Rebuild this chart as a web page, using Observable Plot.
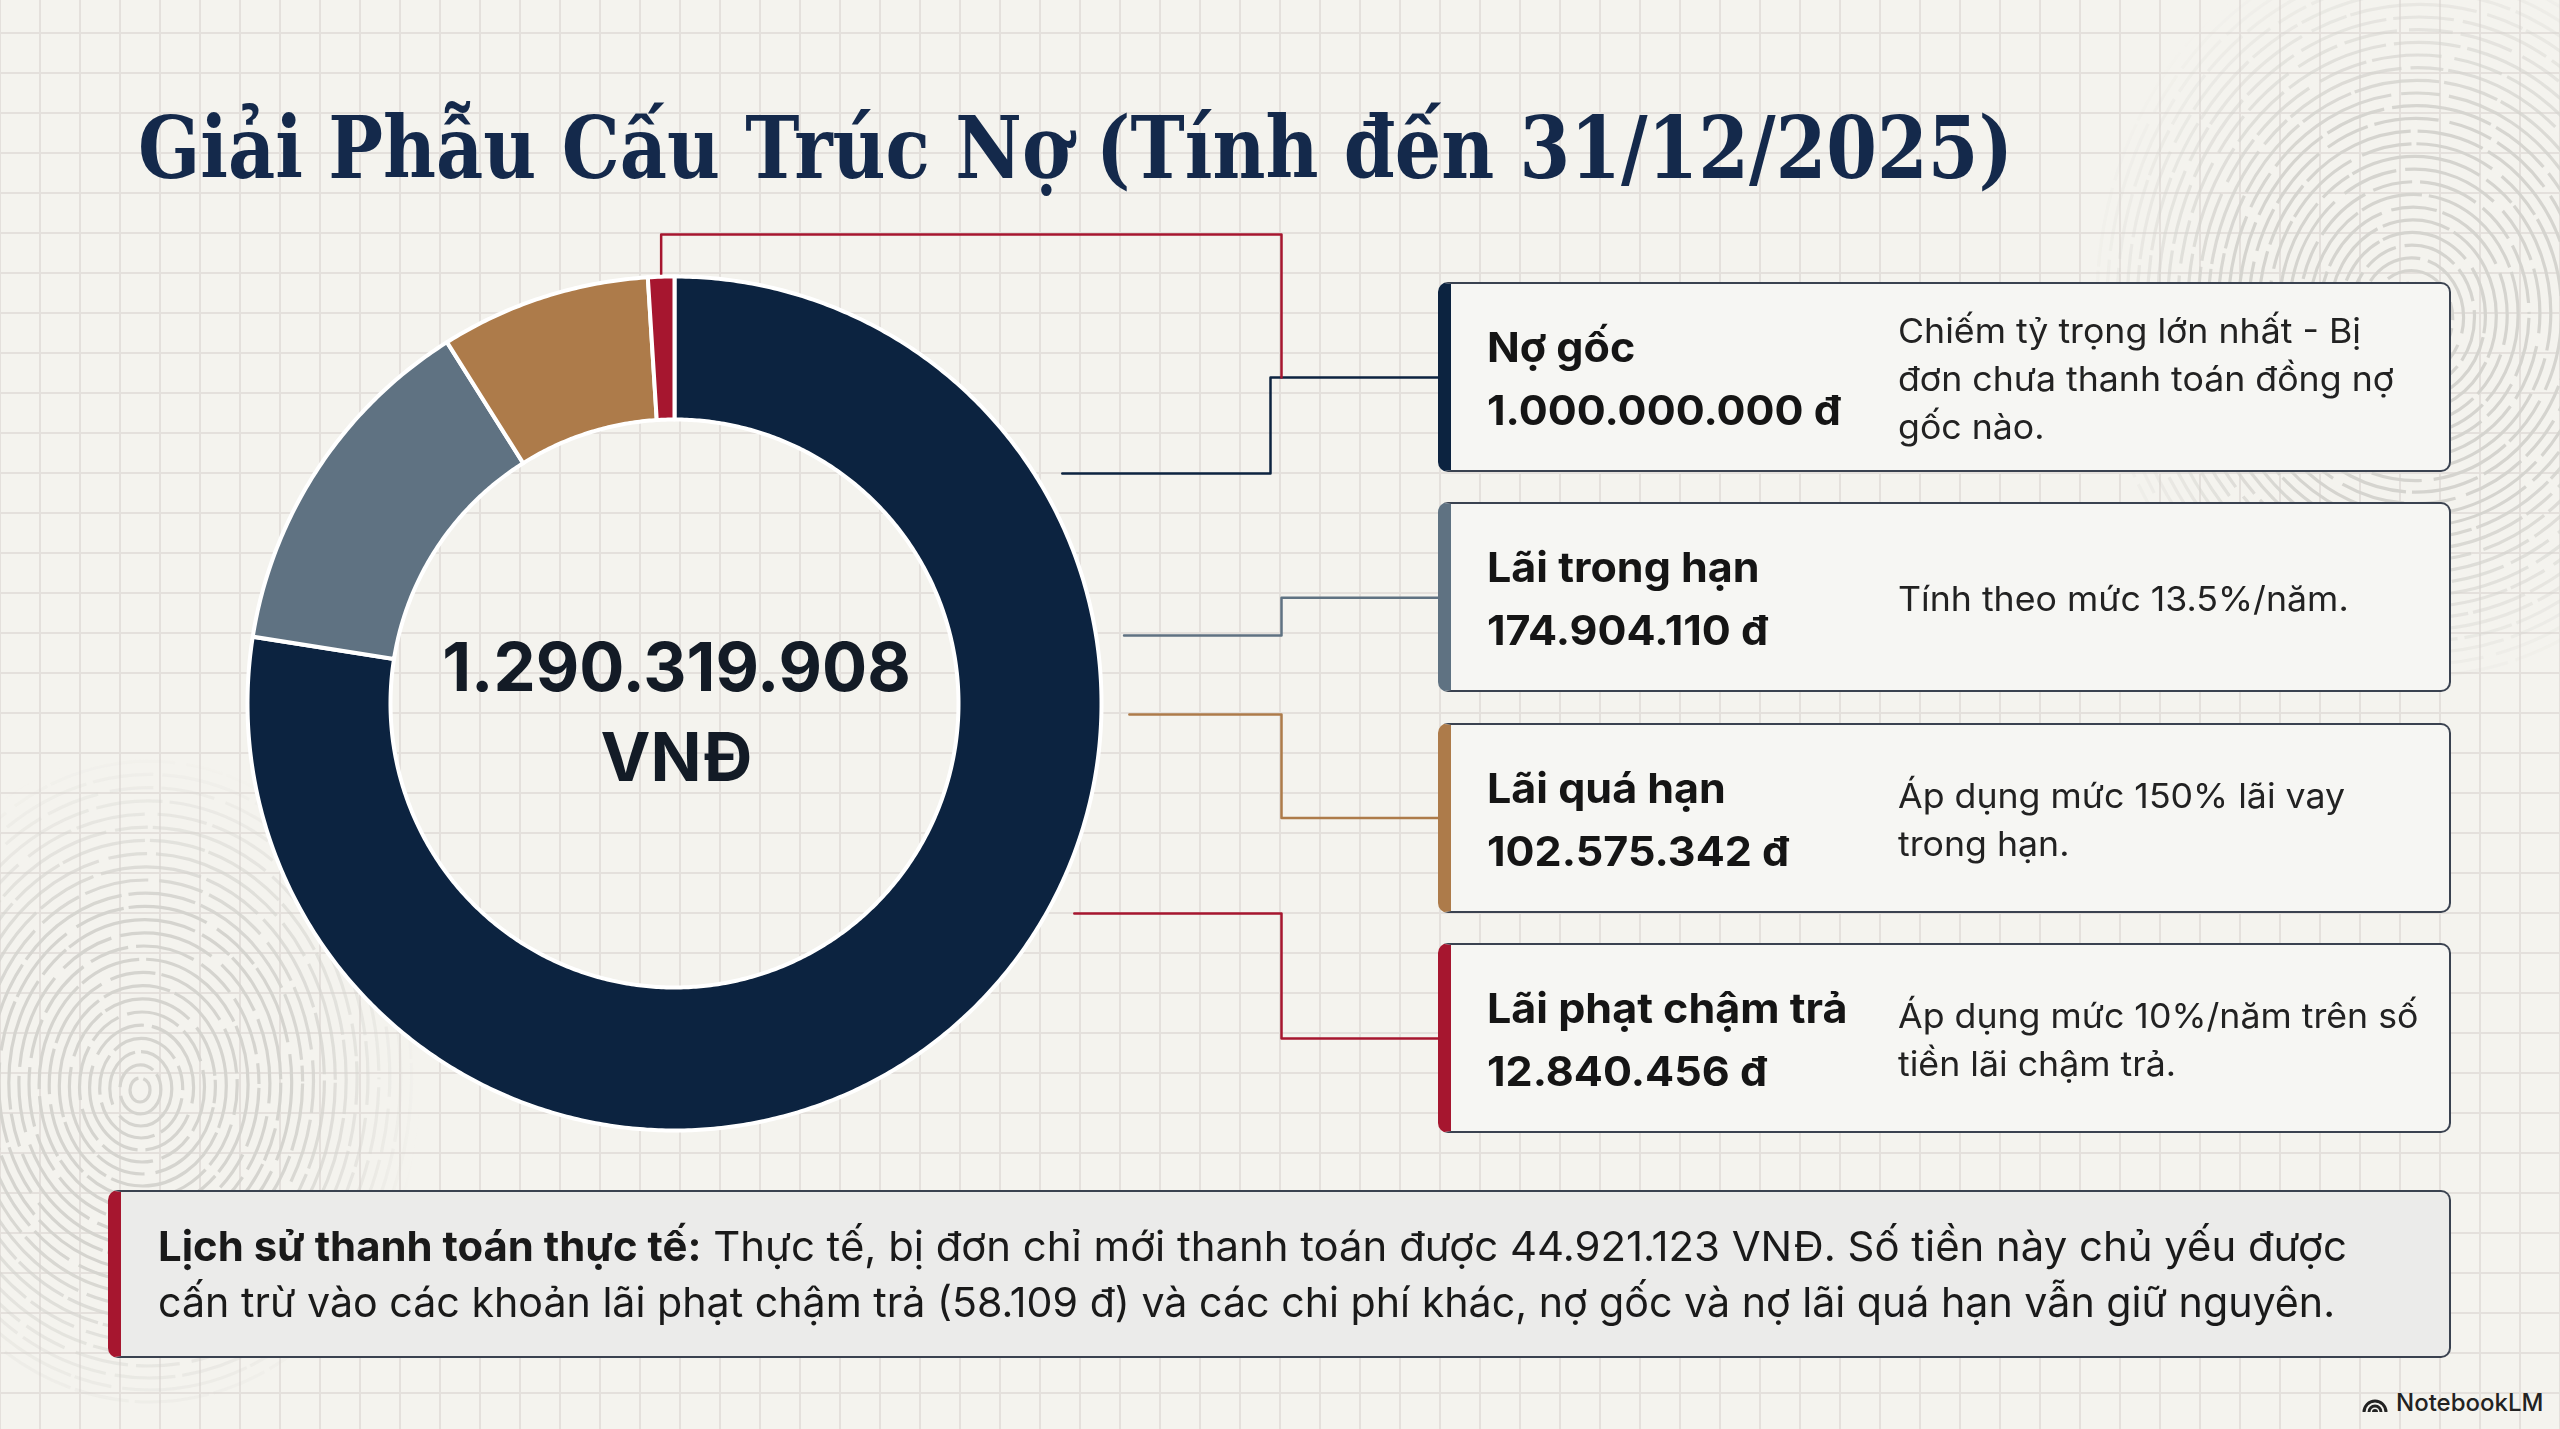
<!DOCTYPE html>
<html lang="vi">
<head>
<meta charset="utf-8">
<script src="https://cdn.jsdelivr.net/npm/d3@7"></script>
<script src="https://cdn.jsdelivr.net/npm/@observablehq/plot@0.6"></script>
<style>
html,body{margin:0;padding:0}
body{width:2560px;height:1429px;overflow:hidden;position:relative;background-color:#f4f3ee;
  background-image:linear-gradient(to right,#e4e0dc 2px,transparent 2px),linear-gradient(to bottom,#e4e0dc 2px,transparent 2px);
  background-size:40px 40px;background-position:-1px 32px;
  font-family:Inter,"Noto Sans",sans-serif;color:#1a1a1a}
#fp{position:absolute;left:0;top:0;z-index:0}
#chart{position:absolute;left:0;top:0;z-index:1}
#title{position:absolute;left:138px;top:105px;margin:0;font-family:"DejaVu Serif",serif;font-weight:700;font-size:86px;line-height:86px;color:#14294b;white-space:nowrap;transform-origin:0 0;z-index:2}
.card{position:absolute;left:1438px;width:1013px;height:190px;box-sizing:border-box;border:2.5px solid #3a4250;border-left-width:13px;border-radius:10px;background:#f6f6f3;display:flex;align-items:center;z-index:2}
.card .name{width:411px;padding-left:36px;box-sizing:content-box;font-weight:700;font-size:41px;line-height:63px;color:#151515;margin-top:4px;white-space:nowrap}
.card .name div{transform:scaleX(1.05);transform-origin:0 50%}
.card .desc{font-size:34px;line-height:48px;color:#222;margin-top:4px;white-space:nowrap}
.card .desc div{transform:scaleX(1.05);transform-origin:0 50%}
#note{position:absolute;left:108px;top:1190px;width:2343px;height:168px;box-sizing:border-box;border:2.5px solid #3a4250;border-left:13px solid #a6162f;border-radius:10px;background:#ebebea;display:flex;align-items:center;padding-left:37px;z-index:2}
#note .txt{font-size:41px;line-height:56px;color:#1a1a1a;white-space:nowrap}
#note .txt div{transform-origin:0 50%}
#logo{position:absolute;left:2362px;top:1388px;display:flex;align-items:center;gap:8px;font-size:24px;font-weight:500;color:#222;z-index:2}
</style>
</head>
<body>
<svg id="fp" width="2560" height="1429"></svg>
<div id="chart"></div>
<h1 id="title"></h1>
<div id="cards"></div>
<div id="note"><div class="txt"></div></div>
<div id="logo"><svg width="26" height="20" viewBox="0 0 26 20"><path d="M2 19 A11 11 0 0 1 24 19" fill="none" stroke="#222" stroke-width="3"/><path d="M7 19 A6 6 0 0 1 19 19" fill="none" stroke="#222" stroke-width="3"/><path d="M11.5 19 A1.5 1.5 0 0 1 14.5 19" fill="none" stroke="#222" stroke-width="3"/></svg><span>NotebookLM</span></div>
<script>
// ---------------- DATA ----------------
const titleText = "Giải Phẫu Cấu Trúc Nợ (Tính đến 31/12/2025)";
const categories = ["Nợ gốc", "Lãi trong hạn", "Lãi quá hạn", "Lãi phạt chậm trả"];
const values = [1000000000, 174904110, 102575342, 12840456];
const colors = ["#0c2340", "#5f7282", "#ad7b4a", "#a6162f"];
const descriptions = [
  ["Chiếm tỷ trọng lớn nhất - Bị", "đơn chưa thanh toán đồng nợ", "gốc nào."],
  ["Tính theo mức 13.5%/năm."],
  ["Áp dụng mức 150% lãi vay", "trong hạn."],
  ["Áp dụng mức 10%/năm trên số", "tiền lãi chậm trả."]
];
const currencyUnit = "VNĐ";
const noteLabel = "Lịch sử thanh toán thực tế:";
const noteLines = [
  "Thực tế, bị đơn chỉ mới thanh toán được 44.921.123 VNĐ. Số tiền này chủ yếu được",
  "cấn trừ vào các khoản lãi phạt chậm trả (58.109 đ) và các chi phí khác, nợ gốc và nợ lãi quá hạn vẫn giữ nguyên."
];

// ---------------- FORMAT ----------------
const vn = d3.formatLocale({decimal: ",", thousands: ".", grouping: [3], currency: ["", ""]});
const fmt = vn.format(",d");
const total = d3.sum(values);
const rows = categories.map((c, i) => ({key: c, value: values[i], label: fmt(values[i]) + " đ", desc: descriptions[i]}));

// ---------------- LAYOUT ----------------
const W = 2560, H = 1429;
const cx = 674, cy = 703, R = 427, r = 284;
const cardLeft = 1438, cardTop0 = 282, cardH = 190, cardGap = 30.3;
const cardTop = i => cardTop0 + i * (cardH + cardGap);

// ring polygons from d3.pie
const arcs = d3.pie().sort(null).value(d => d.value)(rows);
const ring = [];
arcs.forEach(a => {
  const n = Math.max(6, Math.ceil((a.endAngle - a.startAngle) / (Math.PI / 360)));
  for (let i = 0; i <= n; i++) {
    const t = a.startAngle + (a.endAngle - a.startAngle) * i / n;
    ring.push({key: a.data.key, x: cx + R * Math.sin(t), y: cy - R * Math.cos(t)});
  }
  for (let i = n; i >= 0; i--) {
    const t = a.startAngle + (a.endAngle - a.startAngle) * i / n;
    ring.push({key: a.data.key, x: cx + r * Math.sin(t), y: cy - r * Math.cos(t)});
  }
});

// connectors (elbow lines from ring to cards)
const startY = [473, 635, 714, 913];
const elbowX = [1270, 1281, 1281, 1281];
const conn = [];
rows.forEach((d, i) => {
  const y0 = startY[i];
  const x0 = cx + Math.sqrt(R * R - (y0 - cy) ** 2) + 28;
  const y1 = cardTop(i) + cardH / 2;
  [[x0, y0], [elbowX[i], y0], [elbowX[i], y1], [cardLeft, y1]].forEach(([x, y]) => conn.push({id: "c" + i, key: d.key, x, y}));
});
// top connector from the smallest slice
const last = arcs[arcs.length - 1];
const mid = (last.startAngle + last.endAngle) / 2;
const tx = cx + R * Math.sin(mid);
[[tx, cy - R - 2], [tx, 234], [1281, 234], [1281, cardTop(0) + cardH / 2]].forEach(([x, y]) => conn.push({id: "top", key: last.data.key, x, y}));

const centerText = [fmt(total), currencyUnit];

const chart = Plot.plot({
  width: W, height: H, margin: 0,
  x: {domain: [0, W], range: [0, W], axis: null},
  y: {domain: [0, H], range: [0, H], axis: null},
  color: {domain: categories, range: colors},
  style: {background: "transparent", overflow: "visible"},
  marks: [
    Plot.line(conn, {x: "x", y: "y", z: "id", stroke: "key", strokeWidth: 2.5, curve: "linear"}),
    Plot.line(ring, {x: "x", y: "y", z: "key", fill: "key", stroke: "#ffffff", strokeWidth: 4, curve: "linear-closed"}),
    Plot.text(centerText, {x: () => cx + 2, y: (d, i) => i === 0 ? 669 : 759, text: d => d, fontSize: 67, fontWeight: 700, fill: "#131b26", fontFamily: "Inter, sans-serif", textAnchor: "middle"})
  ]
});
document.getElementById("chart").appendChild(chart);

// ---------------- HTML PARTS ----------------
const title = document.getElementById("title");
title.textContent = titleText;

const cardsEl = document.getElementById("cards");
rows.forEach((d, i) => {
  const c = document.createElement("div");
  c.className = "card";
  c.style.top = cardTop(i) + "px";
  c.style.borderLeftColor = colors[i];
  const n = document.createElement("div");
  n.className = "name";
  n.innerHTML = `<div>${d.key}</div><div>${d.label}</div>`;
  const de = document.createElement("div");
  de.className = "desc";
  de.innerHTML = d.desc.map(l => `<div>${l}</div>`).join("");
  c.appendChild(n); c.appendChild(de);
  cardsEl.appendChild(c);
});

const txt = document.querySelector("#note .txt");
txt.innerHTML = `<div><b>${noteLabel}</b> ${noteLines[0]}</div><div>${noteLines[1]}</div>`;

// fit widths to the reference layout
function fitW(el, w) { const cur = el.getBoundingClientRect().width; el.style.transform = `scaleX(${w / cur})`; }
fitW(title, 1875);
const ls = txt.querySelectorAll("div");
ls.forEach((el, i) => { el.style.display = "block"; el.style.width = "max-content"; fitW(el, [2189, 2177][i]); });

// ---------------- DECORATIVE FINGERPRINTS ----------------
const fp = d3.select("#fp");
const defs = fp.append("defs");
function fingerprint(id, fx, fy, maxR, ratio) {
  const g = defs.append("radialGradient").attr("id", "g" + id);
  g.append("stop").attr("offset", "0.55").attr("stop-color", "#fff");
  g.append("stop").attr("offset", "1").attr("stop-color", "#000");
  const m = defs.append("mask").attr("id", "m" + id);
  m.append("ellipse").attr("cx", fx).attr("cy", fy).attr("rx", maxR).attr("ry", maxR * ratio).attr("fill", `url(#g${id})`);
  const grp = fp.append("g").attr("mask", `url(#m${id})`).attr("fill", "none").attr("stroke", "#d5d4cf").attr("stroke-width", 3.2);
  for (let k = 0; k * 10.5 + 10 < maxR; k++) {
    const rx = 10 + k * 10.5, ry = rx * ratio;
    grp.append("ellipse").attr("cx", fx + k * 0.4).attr("cy", fy - k * 0.6).attr("rx", rx).attr("ry", ry)
      .attr("stroke-dasharray", `${50 + (k * 37) % 90} ${5 + (k * 13) % 9} ${30 + (k * 17) % 40} ${4 + (k * 7) % 6}`)
      .attr("stroke-dashoffset", k * 23);
  }
}
fingerprint("a", 2410, 320, 330, 1.15);
fingerprint("b", 140, 1090, 280, 1.2);
</script>
</body>
</html>
